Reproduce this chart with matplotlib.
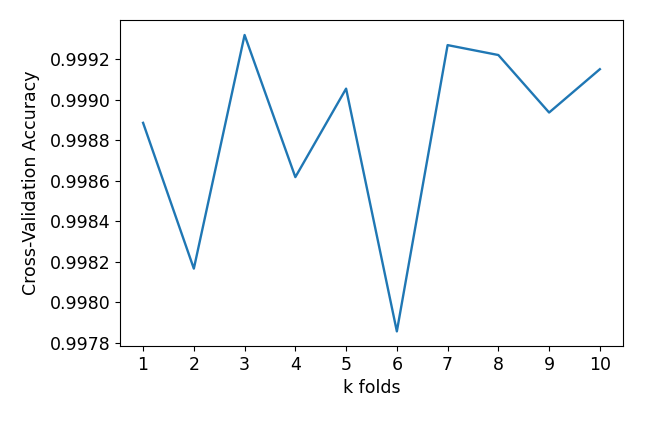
import matplotlib
matplotlib.use('Agg')
import matplotlib.pyplot as plt

# cross-validation accuracy for each k
k_folds = [1, 2, 3, 4, 5, 6, 7, 8, 9, 10]
cv_scores = [0.998887, 0.998167, 0.999321, 0.998619, 0.999056,
             0.997857, 0.999271, 0.999222, 0.998938, 0.999152]

plt.rcParams['font.size'] = 12.5

fig, ax = plt.subplots(figsize=(6.5, 4.29), dpi=100)
fig.subplots_adjust(left=0.185, right=0.958, top=0.953, bottom=0.193)

ax.plot(k_folds, cv_scores, linewidth=1.7)
ax.set_xticks(k_folds)
ax.set_xlabel('k folds')
ax.set_ylabel('Cross-Validation Accuracy', labelpad=7)

fig.savefig('out.png')
plt.close(fig)
